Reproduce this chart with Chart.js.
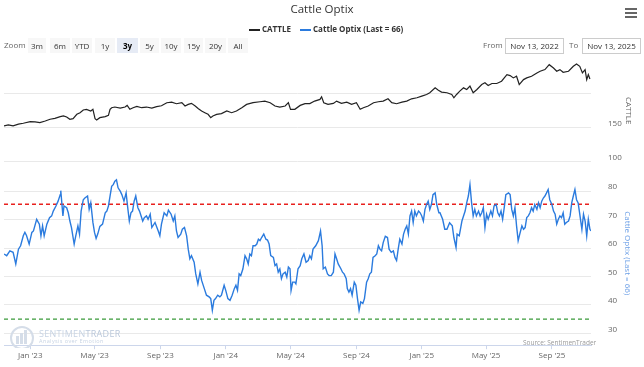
<!DOCTYPE html>
<html><head><meta charset="utf-8">
<script src="https://cdn.jsdelivr.net/npm/chart.js@4.4.1/dist/chart.umd.min.js"></script>
<style>
body{margin:0;background:#fff;}
#wrap{position:relative;width:644px;height:367px;overflow:hidden;font-family:"Open Sans",sans-serif;color:#333;}
#c{position:absolute;left:0;top:0;}
.t{position:absolute;white-space:nowrap;line-height:1;}
.btn{position:absolute;top:38px;height:15px;background:#f7f7f7;font-size:8px;line-height:15px;text-align:center;color:#333;}
.sel{background:#e6ebf5;font-weight:bold;color:#000;}
.box{position:absolute;top:38px;height:14px;border:1px solid #ccc;font-size:8px;line-height:14px;text-align:center;color:#333;background:#fff;}
</style></head>
<body>
<div id="wrap">
<canvas id="c" width="644" height="367"></canvas>
<div class="t" style="left:0;width:644px;top:3px;text-align:center;font-size:11.5px;color:#333;">Cattle Optix</div>
<svg style="position:absolute;left:625px;top:8px" width="13" height="11"><rect x="0" y="0" width="12" height="2" fill="#666"/><rect x="0" y="4" width="12" height="2" fill="#666"/><rect x="0" y="8" width="12" height="2" fill="#666"/></svg>
<div style="position:absolute;left:249px;top:29px;width:11px;height:2px;background:#222;"></div>
<div class="t" style="left:262px;top:25px;font-size:8px;font-weight:bold;color:#333;">CATTLE</div>
<div style="position:absolute;left:300px;top:29px;width:11px;height:2px;background:#2b7bde;"></div>
<div class="t" style="left:313px;top:25px;font-size:8px;font-weight:bold;color:#333;">Cattle Optix (Last = 66)</div>
<div class="t" style="left:4px;top:41px;font-size:8px;color:#666;">Zoom</div>
<div class="btn" style="left:28px;width:18px;">3m</div>
<div class="btn" style="left:50px;width:20px;">6m</div>
<div class="btn" style="left:72px;width:20px;">YTD</div>
<div class="btn" style="left:95px;width:20px;">1y</div>
<div class="btn sel" style="left:117px;width:21px;">3y</div>
<div class="btn" style="left:140px;width:19px;">5y</div>
<div class="btn" style="left:161px;width:20px;">10y</div>
<div class="btn" style="left:184px;width:19px;">15y</div>
<div class="btn" style="left:205px;width:21px;">20y</div>
<div class="btn" style="left:228px;width:20px;">All</div>
<div class="t" style="left:483px;top:41px;font-size:8px;color:#666;">From</div>
<div class="box" style="left:505px;width:57px;">Nov 13, 2022</div>
<div class="t" style="left:569px;top:41px;font-size:8px;color:#666;">To</div>
<div class="box" style="left:582px;width:57px;">Nov 13, 2025</div>
<svg style="position:absolute;left:8px;top:324px" width="30" height="24"><circle cx="14" cy="14" r="11" fill="none" stroke="#d5dde8" stroke-width="2"/><rect x="8" y="12" width="3" height="8" fill="#d5dde8"/><rect x="12" y="9" width="3" height="11" fill="#d5dde8"/><rect x="16" y="6" width="3" height="14" fill="#d5dde8"/></svg>
<div class="t" style="left:39px;top:329px;font-size:9px;color:#c8d4e4;letter-spacing:0.3px;">SENTIMEN<span style="color:#b9c7da">TRADER</span></div>
<div class="t" style="left:39px;top:339px;font-size:5.5px;color:#c8d4e4;letter-spacing:0.4px;">Analysis over Emotion</div>
<div class="t" style="left:523px;top:340px;font-size:6.5px;color:#999;">Source: SentimenTrader</div>
</div>
<script>
// ---- data (x = days since Nov 13, 2022) ----
const cattleDays = [0,8,17,27,36,49,58,67,77,86,95,105,111,117,123,129,136,142,148,154,162,166,170,173,179,189,195,198,201,207,217,226,230,235,241,248,257,266,276,285,294,304,313,322,332,338,344,350,357,363,369,375,381,386,390,397,406,416,425,434,444,453,465,478,487,497,506,515,525,531,535,543,553,562,571,580,590,593,597,605,615,621,630,640,649,658,665,671,680,690,699,708,717,724,733,743,752,761,771,780,789,795,805,811,817,827,836,840,845,851,858,864,870,876,883,892,898,904,911,920,929,939,945,951,957,962,970,976,985,995,1001,1010,1018,1026,1032,1038,1044,1054,1063,1069,1075,1080,1085,1088,1091,1094];
const cattleValues = [152.5,154,152.5,155,156.4,158.8,158.3,157.4,159.8,162.3,163.7,166.2,167.2,165.7,162.3,163.2,169.6,172,176,177,174.5,177,163.2,161.3,164.7,166.2,168.1,177,179.4,180.4,178.9,180.4,182.8,177,179.4,181.4,179.4,180.4,178.9,180.9,182.3,186.8,187.7,185.3,186.8,181.9,184.3,185.8,181.9,178,174.5,172,169.6,164.7,167.2,169.6,170.6,174.5,172,174.5,179.4,184.3,186.8,188.2,189.2,186.8,181.9,180.4,181.9,186.8,177,177,182.8,185.3,185.5,189.2,191.7,195.6,186.8,184.3,185.8,189.2,185.8,187.7,184.3,186.8,177,179.4,181.9,186.8,188.2,189.2,192.6,186.8,185.3,187.7,189.2,192.6,194.1,196.6,199,201.5,208.8,205.4,202.5,201.5,199,194.1,199,203.9,208.8,206.4,211.3,201.5,206.4,213.7,216.2,212.3,215.2,215.2,218.6,228.4,226.9,223.5,226,213.7,221,223.5,226,230.9,233.3,235.8,243.1,238.2,233.3,235.8,231.8,233.3,240.7,244.1,240.7,230.9,235.8,221,228.4,222];

const optixDays = [0,5,11,17,22,27,31,36,39,42,47,52,55,61,66,69,72,75,80,85,89,92,97,101,105,106,110,112,117,120,123,126,131,134,138,141,144,148,151,156,159,162,166,169,172,175,179,184,189,192,195,198,201,204,207,210,213,217,220,224,228,231,234,237,240,243,246,250,253,256,259,262,266,269,273,276,282,288,291,294,299,304,307,312,316,319,322,325,330,333,337,341,344,347,350,355,358,362,366,369,374,378,383,386,389,392,395,399,403,406,411,414,418,422,426,430,433,436,439,442,446,450,453,456,459,462,465,469,472,475,478,481,485,489,492,495,498,503,506,509,512,515,518,521,525,528,531,534,536,539,543,545,549,553,556,560,564,568,571,574,577,582,587,591,594,596,600,604,607,611,615,618,621,624,629,632,635,639,641,644,647,650,654,657,660,663,666,670,673,677,680,683,686,689,693,696,699,702,705,708,712,716,719,723,727,730,733,736,739,743,746,749,752,755,758,761,764,767,770,774,777,780,783,786,789,792,795,798,801,805,808,812,814,819,823,827,832,837,840,844,846,850,855,858,861,864,867,870,873,876,879,882,886,889,892,895,898,901,904,909,912,915,919,922,925,928,931,934,937,942,945,948,951,954,957,960,963,967,970,973,976,979,982,985,988,991,995,998,1001,1004,1007,1010,1013,1016,1019,1023,1026,1029,1032,1035,1038,1041,1044,1047,1050,1054,1057,1060,1063,1066,1069,1072,1075,1079,1082,1085,1088,1091,1094,1096];
const optixValues = [57.9,57.3,59,58.5,54.4,59.6,60.8,64.3,65.5,64.4,61.4,65.5,66,70.1,68.4,64.3,67.8,64.3,68.4,70.7,71.3,73,74.8,76.5,78.8,80.2,71.3,74.8,74.2,72.4,69.5,67.2,61.4,64.3,67.8,64.9,73,77,77.6,78.3,73.6,75.9,69,65.5,63.4,64.9,67.6,68.4,72.4,73,74.8,78.3,81.7,82.3,83.5,84,81.2,80,78.8,76.5,79.4,74.2,69.5,72.4,73,76.5,78.3,74.2,73,71.3,69.5,70.7,71.3,70.1,71.9,67.2,69,66,64.3,68.4,72.4,71.3,73.3,71.9,69.5,71.3,66,63.7,64.9,66.6,67.2,64.3,59.6,56.2,57.3,55,50.9,47.4,51.5,48.6,45.7,43.4,42.8,42.2,38.1,41.6,42.2,43.4,42.8,43.4,46.9,45.1,42.2,41.6,43.4,45.7,46.9,45.1,50.9,50.3,52.6,57.3,56.2,54.4,57.9,57.3,60.8,60.8,61.4,63.1,62.6,63.7,64.9,63.1,62.8,61.4,57.3,56.7,53.8,54.4,51.5,52.6,49.2,50.9,51.5,49.8,53.3,52.7,45.1,48,48,47.4,52.7,53.8,56.2,57.9,55,55.6,57.3,56.2,59.6,60.8,62.6,66,60.8,52.7,53.3,50.9,50.3,50.3,51.5,57.9,56.2,54.4,52.7,51.5,50.9,49.2,45.7,44.5,45.7,43.4,48,46.9,42.2,38.1,41,40.5,42.2,48,49.2,50.9,51.5,56.7,57.3,57.9,60.8,59.6,59,61.9,64.1,63.7,59.6,58.5,59,56.7,55.6,59.6,63.1,61.4,64.9,66.6,67.8,64.9,71.3,73,69,73,71.3,73,72.4,71.3,69.5,73.6,75.3,76.5,73.6,75.3,78.8,79.4,75.3,72.4,72.4,70.1,66.6,66.6,68.9,67.8,63.7,60.2,64.9,64.3,69.5,71.3,73,76,78.3,82.3,76,71.3,73.6,71.3,73,71.3,72.4,74.2,67.2,71.9,70.1,73,71.3,74.8,75.3,72.4,71.3,73,70.1,74.2,78.8,79.4,78.8,73.6,71.3,74.2,67.8,62.6,64.9,67.8,66.6,67.2,70.7,71.3,72.4,74.2,73,75.3,73.6,75.9,74.2,76.5,77.6,78.3,79.4,80.6,77,75.3,73,71.9,68.4,70.1,71.3,70.7,72.4,68.4,69,69.5,71.3,75.9,78.3,80.6,77,75.9,71.9,66.6,71.9,69.5,64.3,70.1,66.6,66];

const upperLevel = 75.4;
const lowerLevel = 35;
const totalDays = 1096;
const monthTickDays = [49,169,292,414,535,658,780,900,1023];
const monthTickLabels = ["Jan '23","May '23","Sep '23","Jan '24","May '24","Sep '24","Jan '25","May '25","Sep '25"];
const cattleTicks = [100,150,200];
const cattleLabelled = [100,150];
const optixTicks = [30,40,50,60,70,80];

// ---- chart ----
const pts = (xs, ys) => xs.map((x, i) => ({x: x, y: ys[i]}));
const FONT = "'Open Sans', sans-serif";

new Chart(document.getElementById('c'), {
  type: 'line',
  data: {
    datasets: [
      {label: 'CATTLE', data: pts(cattleDays, cattleValues), yAxisID: 'yC',
       borderColor: '#222', borderWidth: 1.2, pointRadius: 0, tension: 0},
      {label: 'Cattle Optix (Last = 66)', data: pts(optixDays, optixValues), yAxisID: 'yO',
       borderColor: '#2b7bde', borderWidth: 1.4, pointRadius: 0, tension: 0},
      {label: 'upper', data: [{x: 0, y: upperLevel}, {x: totalDays, y: upperLevel}], yAxisID: 'yO',
       borderColor: '#e8211e', borderWidth: 1.3, borderDash: [4, 3], pointRadius: 0},
      {label: 'lower', data: [{x: 0, y: lowerLevel}, {x: totalDays, y: lowerLevel}], yAxisID: 'yO',
       borderColor: '#3a9a3a', borderWidth: 1.3, borderDash: [4, 3], pointRadius: 0}
    ]
  },
  options: {
    responsive: false,
    animation: false,
    devicePixelRatio: 1,
    layout: {padding: {top: 60, left: 4, right: 0, bottom: 0}},
    plugins: {legend: {display: false}, tooltip: {enabled: false}, title: {display: false}},
    scales: {
      x: {
        type: 'linear', min: 0, max: totalDays,
        afterBuildTicks: s => { s.ticks = monthTickDays.map(v => ({value: v})); },
        afterFit: s => { s.height = 20; },
        grid: {display: true, drawOnChartArea: false, drawTicks: true, tickLength: 4, color: '#ccd6eb'},
        border: {display: true, color: '#ccd6eb', width: 1},
        ticks: {autoSkip: false, maxRotation: 0, padding: 2, color: '#666',
                font: {family: FONT, size: 8},
                callback: (v, i) => monthTickLabels[i]}
      },
      yC: {
        type: 'linear', position: 'right', stack: 'panes', stackWeight: 102,
        min: 100, max: 250,
        afterBuildTicks: s => { s.ticks = cattleTicks.map(v => ({value: v})); },
        afterFit: s => { s.width = 53; },
        grid: {color: '#e9e9e9', drawTicks: false},
        border: {display: false},
        ticks: {autoSkip: false, padding: 17, labelOffset: -4, color: '#666',
                font: {family: FONT, size: 8},
                callback: v => cattleLabelled.includes(v) ? String(v) : ''},
        title: {display: true, text: 'CATTLE', color: '#666', font: {family: FONT, size: 8},
                padding: {top: 11, bottom: 0}}
      },
      yO: {
        type: 'linear', position: 'right', stack: 'panes', stackWeight: 185,
        min: 25.8, max: 90.5,
        afterBuildTicks: s => { s.ticks = optixTicks.map(v => ({value: v})); },
        afterFit: s => { s.width = 53; },
        grid: {color: '#e9e9e9', drawTicks: false},
        border: {display: false},
        ticks: {autoSkip: false, padding: 17, labelOffset: -4, color: '#666',
                font: {family: FONT, size: 8}},
        title: {display: true, text: 'Cattle Optix (Last = 66)', color: '#6a9ee6', font: {family: FONT, size: 8},
                padding: {top: 12, bottom: 0}}
      }
    }
  }
});
</script>
</body></html>
